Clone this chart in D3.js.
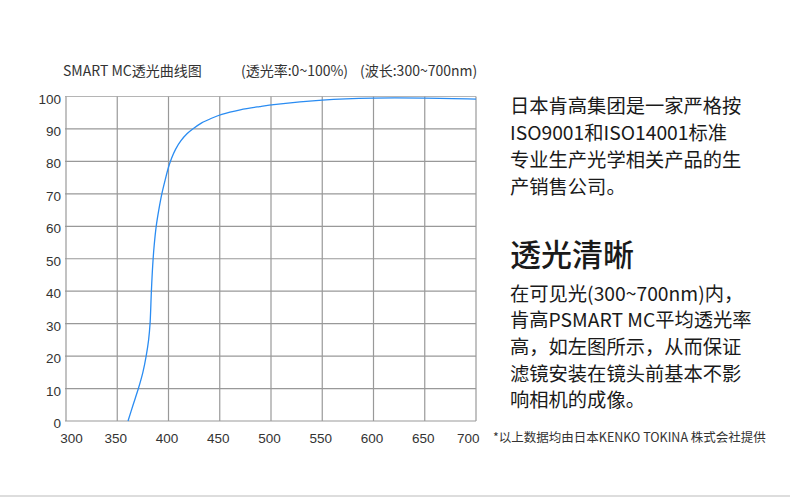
<!DOCTYPE html>
<html>
<head>
    <meta charset="UTF-8">
    <title>SMART MC</title>
    <style>
        body { margin: 0; background: #fff; }
        svg { display: block; }
        .cjk { font-family: "Noto Sans CJK SC", "Noto Sans", sans-serif; }
        .num { font-family: "Liberation Sans", Arial, sans-serif; }
    </style>
</head>
<body>
    <svg></svg>
    <script src="https://d3js.org/d3.v7.min.js"></script>
    <script>
        let width = 790, height = 498

        // wavelength (nm) and transmission (%)
        let wavelength = [360.5, 365.5, 370.6, 375, 378.2, 380.6, 382, 383.3, 384.6, 386, 388, 390.5, 393.5, 397, 400, 403, 407, 412, 418, 425, 432, 442, 452, 470, 489, 505, 550, 600, 650, 700]
        let transmission = [0, 5, 10, 15, 20, 25, 30, 40, 48, 54, 60, 65, 70, 74.6, 78.2, 81, 83.8, 86.3, 88.5, 90.3, 91.8, 93.3, 94.5, 95.9, 96.9, 97.6, 98.9, 99.5, 99.5, 99.2]

        let xTicks = [300, 350, 400, 450, 500, 550, 600, 650, 700]
        let yTicks = [0, 10, 20, 30, 40, 50, 60, 70, 80, 90, 100]

        let titleParts = ["SMART MC透光曲线图", "(透光率:0~100%)", "(波长:300~700nm)"]
        let introLines = ["日本肯高集团是一家严格按", "ISO9001和ISO14001标准", "专业生产光学相关产品的生", "产销售公司。"]
        let heading = "透光清晰"
        let bodyLines = ["在可见光(300~700nm)内，", "肯高PSMART MC平均透光率", "高，如左图所示，从而保证", "滤镜安装在镜头前基本不影", "响相机的成像。"]
        let footnote = "*以上数据均由日本KENKO TOKINA 株式会社提供"

        let svg = d3.select("svg")
            .attr("width", width)
            .attr("height", height)

        let x = d3.scaleLinear().domain([300, 700]).range([66, 476])
        let y = d3.scaleLinear().domain([0, 100]).range([421, 96.5])

        // grid
        svg.append("g")
            .selectAll("line")
            .data(yTicks)
            .enter()
            .append("line")
            .attr("x1", x(300) - 1).attr("x2", x(700))
            .attr("y1", d => y(d)).attr("y2", d => y(d))
            .attr("stroke", d => d == 100 ? "#b5b5b5" : "#999")
            .attr("stroke-width", 1.2)

        svg.append("g")
            .selectAll("line")
            .data(xTicks)
            .enter()
            .append("line")
            .attr("x1", d => x(d)).attr("x2", d => x(d))
            .attr("y1", y(0)).attr("y2", y(100))
            .attr("stroke", "#999")
            .attr("stroke-width", 1.2)

        // tick labels
        svg.append("g")
            .selectAll("text")
            .data(yTicks)
            .enter()
            .append("text")
            .attr("class", "num")
            .attr("x", 61)
            .attr("y", d => y(d) + 7)
            .attr("text-anchor", "end")
            .attr("font-size", "13.5px")
            .attr("fill", "#333")
            .text(d => d)

        // end labels are pulled inward, the rest sit on their grid lines
        let last = xTicks.length - 1
        svg.append("g")
            .selectAll("text")
            .data(xTicks)
            .enter()
            .append("text")
            .attr("class", "num")
            .attr("x", (d, i) => x(d) + (i == 0 ? 5.5 : i == last ? -7.7 : -1.5))
            .attr("y", 443.3)
            .attr("text-anchor", "middle")
            .attr("font-size", "13.5px")
            .attr("fill", "#333")
            .text(d => d)

        // curve
        let pts = wavelength.map((w, i) => [w, transmission[i]])
        let line = d3.line()
            .x(d => x(d[0]))
            .y(d => y(d[1]))
            .curve(d3.curveCatmullRom.alpha(0.5))

        svg.append("path")
            .datum(pts)
            .attr("d", line)
            .attr("fill", "none")
            .attr("stroke", "#2a8cf2")
            .attr("stroke-width", 1.3)

        // title
        let titleX = [63, 241, 360]
        svg.append("g")
            .selectAll("text")
            .data(titleParts)
            .enter()
            .append("text")
            .attr("class", "cjk")
            .attr("x", (d, i) => titleX[i])
            .attr("y", 76)
            .attr("font-size", "14px")
            .attr("fill", "#333")
            .text(d => d)

        // right side text
        svg.append("g")
            .selectAll("text")
            .data(introLines)
            .enter()
            .append("text")
            .attr("class", "cjk")
            .attr("x", 510)
            .attr("y", (d, i) => 113 + i * 27)
            .attr("font-size", "19.3px")
            .attr("fill", "#1a1a1a")
            .text(d => d)

        svg.append("text")
            .attr("class", "cjk")
            .attr("x", 510)
            .attr("y", 265.5)
            .attr("font-size", "31px")
            .attr("font-weight", 500)
            .attr("fill", "#1a1a1a")
            .text(heading)

        svg.append("g")
            .selectAll("text")
            .data(bodyLines)
            .enter()
            .append("text")
            .attr("class", "cjk")
            .attr("x", 510)
            .attr("y", (d, i) => 300.5 + i * 26.7)
            .attr("font-size", "19.3px")
            .attr("fill", "#1a1a1a")
            .text(d => d)

        svg.append("text")
            .attr("class", "cjk")
            .attr("x", 493)
            .attr("y", 441.5)
            .attr("font-size", "12.5px")
            .attr("fill", "#333")
            .text(footnote)

        // bottom rule
        svg.append("line")
            .attr("x1", 0).attr("x2", width)
            .attr("y1", 496).attr("y2", 496)
            .attr("stroke", "#ddd")
            .attr("stroke-width", 2)
    </script>
</body>
</html>
